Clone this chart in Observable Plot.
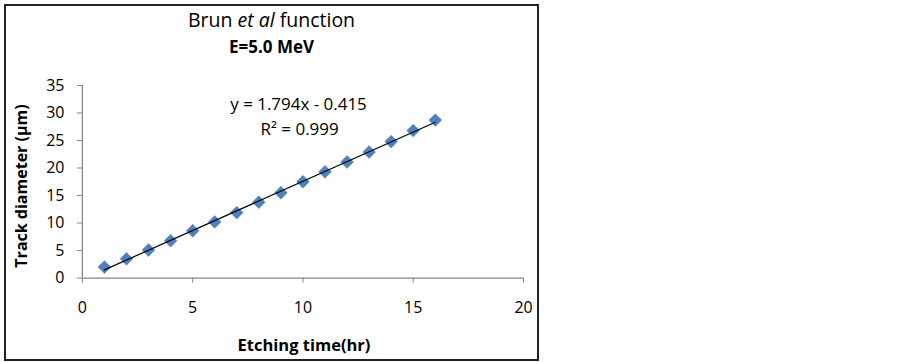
<!DOCTYPE html>
<html>
<head>
<meta charset="utf-8">
<script src="https://cdn.jsdelivr.net/npm/d3@7"></script>
<script src="https://cdn.jsdelivr.net/npm/@observablehq/plot@0.6"></script>
<style>
  body { margin: 0; background: #fff; font-family: "Open Sans", sans-serif; }
  #box { position: absolute; left: 4px; top: 4px; width: 531px; height: 353px; border: 2px solid #222; }
  .t { position: absolute; color: #000; white-space: nowrap; line-height: 1; }
  #title { left: 0; width: 531px; top: 4px; text-align: center; font-size: 19.5px; }
  #sub { left: 0; width: 531px; top: 32px; text-align: center; font-size: 17px; font-weight: bold; }
  #ylab { left: 15px; top: 180px; font-size: 16px; font-weight: bold; transform: translate(-50%, -50%) rotate(-90deg); }
  #xlab { left: 298px; top: 331px; font-size: 16.5px; font-weight: bold; transform: translateX(-50%); }
  #plot { position: absolute; left: -1px; top: 54px; }
</style>
</head>
<body>
<div id="box">
  <div class="t" id="title">Brun <i>et al</i> function</div>
  <div class="t" id="sub">E=5.0 MeV</div>
  <div class="t" id="ylab">Track diameter (µm)</div>
  <div class="t" id="xlab">Etching time(hr)</div>
  <div id="plot"></div>
</div>
<script>
const etchingTime = [1, 2, 3, 4, 5, 6, 7, 8, 9, 10, 11, 12, 13, 14, 15, 16];
const trackDiameter = [2.0, 3.5, 5.1, 6.8, 8.6, 10.2, 11.9, 13.8, 15.5, 17.5, 19.3, 21.1, 22.9, 24.8, 26.8, 28.7];
const xTicks = [0, 5, 10, 15, 20];
const yTicks = [0, 5, 10, 15, 20, 25, 30, 35];
const equationLines = ["y = 1.794x - 0.415", "R² = 0.999"];
const equationPos = [{x: 9.8, y: 31.6}, {x: 9.85, y: 26.9}];

const data = etchingTime.map((t, i) => ({t, d: trackDiameter[i]}));
const eq = equationLines.map((s, i) => ({s, ...equationPos[i]}));
const gray = "#868686";

const chart = Plot.plot({
  width: 533,
  height: 300,
  marginLeft: 77,
  marginRight: 14,
  marginTop: 25,
  marginBottom: 82,
  style: {fontFamily: "'Open Sans', sans-serif", fontSize: "16px", background: "transparent"},
  x: {domain: [0, 20], ticks: xTicks, label: null},
  y: {domain: [0, 35], ticks: yTicks, label: null},
  marks: [
    Plot.axisX({ticks: xTicks, tickSize: 5, tickPadding: 19, stroke: gray, fill: "#000", label: null, fontSize: 16}),
    Plot.axisY({ticks: yTicks, tickSize: 5, tickPadding: 13, stroke: gray, fill: "#000", label: null, fontSize: 16}),
    Plot.ruleY([0], {stroke: gray, strokeWidth: 1.3}),
    Plot.ruleX([0], {stroke: gray, strokeWidth: 1.3}),
    Plot.dot(data, {x: "t", y: "d", symbol: "diamond2", r: 5.8, fill: "#4F81BD", stroke: "#4F81BD", strokeWidth: 0.5}),
    Plot.linearRegressionY(data, {x: "t", y: "d", ci: 0, stroke: "#000", strokeWidth: 1.2}),
    Plot.text(eq, {x: "x", y: "y", text: "s", fill: "#000", fontSize: 17, textAnchor: "middle"})
  ]
});
document.getElementById("plot").appendChild(chart);
</script>
</body>
</html>
